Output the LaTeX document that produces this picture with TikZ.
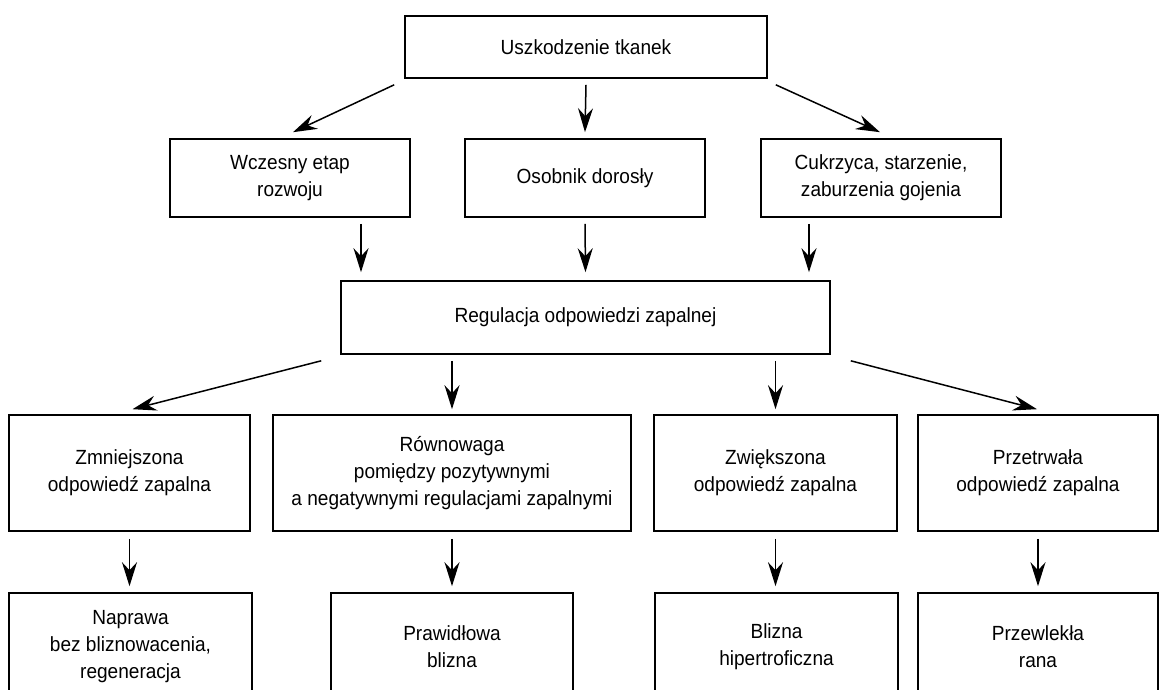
\documentclass[tikz,border=0pt]{standalone}
\usepackage{fontspec}
\setmainfont{Liberation Sans}[FakeStretch=0.93]
\usetikzlibrary{arrows.meta,calc}
\tikzset{
  box/.style={draw=black, line width=1.6pt, fill=white, align=center, inner sep=0pt,
    font=\fontsize{20.5}{27}\selectfont},
  arr/.style={line width=1.5pt, -{Stealth[length=24pt,width=15pt,inset=8pt]}},
}
\begin{document}
\begin{tikzpicture}[x=1pt,y=-1pt]
\useasboundingbox (0,0) rectangle (1159,690);
\clip (0,0) rectangle (1159,690);
% level 1
\node[box, minimum width=362pt, minimum height=62pt] (top) at (586,47) {Uszkodzenie tkanek};
% level 2
\node[box, minimum width=240pt, minimum height=78pt] (a1) at (290,178) {Wczesny etap\\rozwoju};
\node[box, minimum width=240pt, minimum height=78pt] (a2) at (585,178) {Osobnik dorosły};
\node[box, minimum width=240pt, minimum height=78pt] (a3) at (881,178) {Cukrzyca, starzenie,\\zaburzenia gojenia};
% level 3
\node[box, minimum width=489pt, minimum height=73pt] (reg) at (585.5,317.5) {Regulacja odpowiedzi zapalnej};
% level 4
\node[box, minimum width=241pt, minimum height=116pt] (b1) at (129.5,473) {Zmniejszona\\odpowiedź zapalna};
\node[box, minimum width=358pt, minimum height=116pt] (b2) at (452,473) {Równowaga\\pomiędzy pozytywnymi\\a negatywnymi regulacjami zapalnymi};
\node[box, minimum width=243pt, minimum height=116pt] (b3) at (775.5,473) {Zwiększona\\odpowiedź zapalna};
\node[box, minimum width=240pt, minimum height=116pt] (b4) at (1038,473) {Przetrwała\\odpowiedź zapalna};
% level 5
\node[box, minimum width=243pt, minimum height=108pt] (c1) at (130.5,647) {Naprawa\\bez bliznowacenia,\\regeneracja};
\node[box, minimum width=242pt, minimum height=108pt] (c2) at (452,647) {Prawidłowa\\blizna};
\node[box, minimum width=243pt, minimum height=108pt] (c3) at (776.5,647) {Blizna\\hipertroficzna};
\node[box, minimum width=240pt, minimum height=108pt] (c4) at (1038,647) {Przewlekła\\rana};
% arrows level 1 -> 2
\draw[arr] ([xshift=-10pt,yshift=-6pt]top.south west) -- ([xshift=3pt,yshift=6pt]a1.north);
\draw[arr] ([yshift=-6pt]top.south) -- ([yshift=6pt]a2.north);
\draw[arr] ([xshift=8pt,yshift=-6pt]top.south east) -- ([xshift=-1pt,yshift=6pt]a3.north);
% arrows level 2 -> 3
\draw[arr] ([xshift=71pt,yshift=-6pt]a1.south) -- ([xshift=71pt,yshift=8pt]a1.south |- reg.north);
\draw[arr] ([yshift=-6pt]a2.south) -- ([yshift=8pt]reg.north);
\draw[arr] ([xshift=-72pt,yshift=-6pt]a3.south) -- ([xshift=-72pt,yshift=8pt]a3.south |- reg.north);
% arrows level 3 -> 4
\draw[arr] ([xshift=-19pt,yshift=-6pt]reg.south west) -- ([xshift=3pt,yshift=5pt]b1.north);
\draw[arr] ([yshift=-6pt]reg.south -| b2.north) -- ([yshift=5pt]b2.north);
\draw[arr] ([yshift=-6pt]reg.south -| b3.north) -- ([yshift=5pt]b3.north);
\draw[arr] ([xshift=20pt,yshift=-6pt]reg.south east) -- ([xshift=-1pt,yshift=5pt]b4.north);
% arrows level 4 -> 5
\draw[arr] ([yshift=-7pt]b1.south) -- ([yshift=6pt]b1.south |- c1.north);
\draw[arr] ([yshift=-7pt]b2.south) -- ([yshift=6pt]c2.north);
\draw[arr] ([yshift=-7pt]b3.south) -- ([yshift=6pt]b3.south |- c3.north);
\draw[arr] ([yshift=-7pt]b4.south) -- ([yshift=6pt]b4.south |- c4.north);
\end{tikzpicture}
\end{document}
